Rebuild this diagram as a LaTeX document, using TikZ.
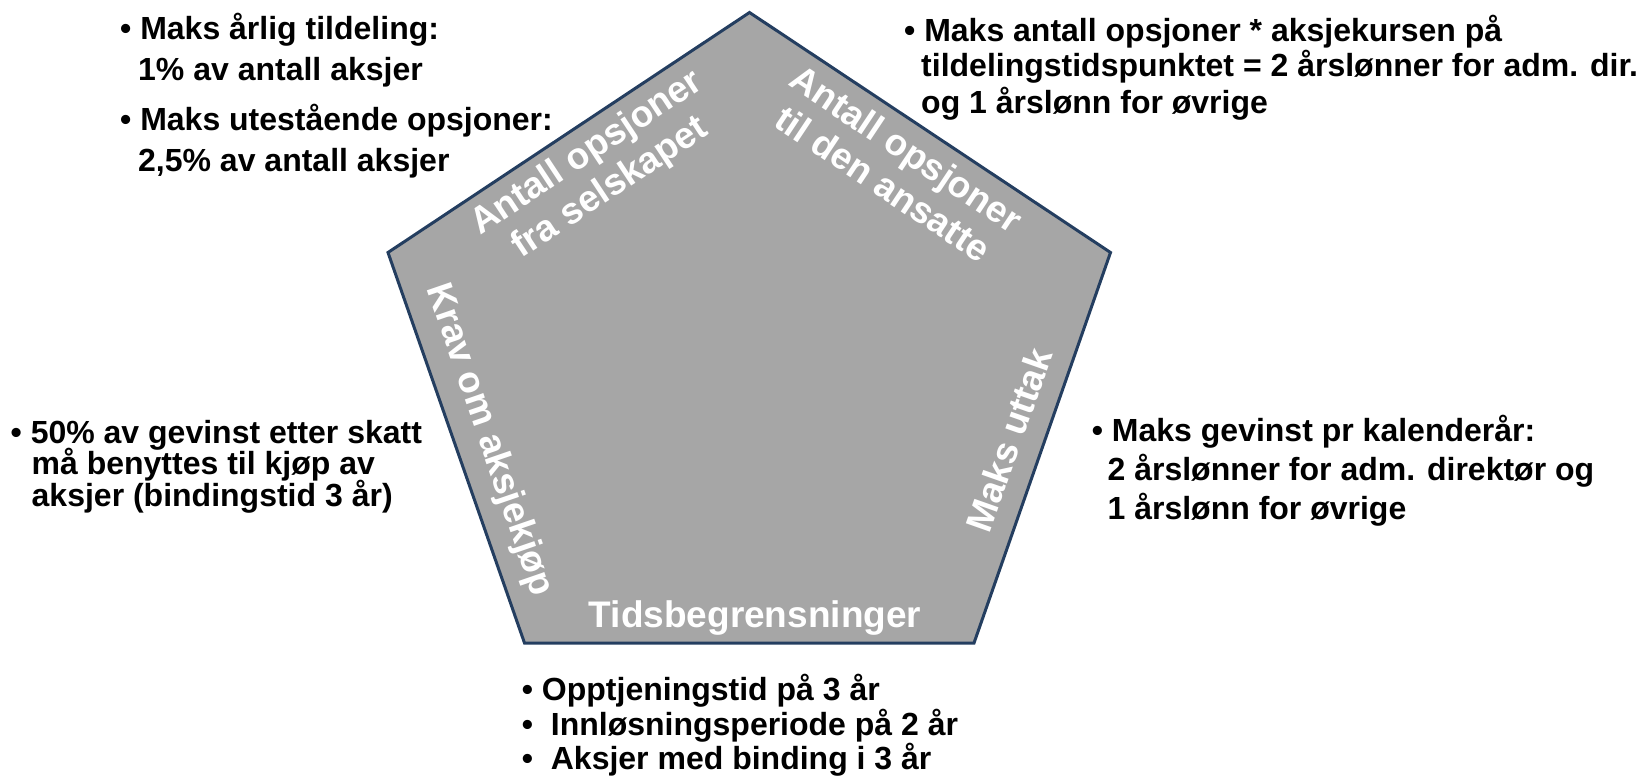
\documentclass[tikz,border=0pt]{standalone}
\usepackage{fontspec}
\setmainfont{Liberation Sans}
\definecolor{pentfill}{RGB}{166,166,166}
\definecolor{pentline}{RGB}{36,62,96}
\begin{document}
\begin{tikzpicture}[x=1pt,y=-1pt,
  txt/.style={anchor=base west,inner sep=0pt,font=\fontsize{32}{37}\selectfont\bfseries},
  wtxt/.style={inner sep=0pt,text=white,font=\fontsize{37}{42}\selectfont\bfseries,align=center}]
\useasboundingbox (0,0) rectangle (1646,780);
\coordinate (pT) at (749.5,12.5);
\coordinate (pR) at (1110.5,252.5);
\coordinate (pBR) at (974,643);
\coordinate (pBL) at (524.5,643);
\coordinate (pL) at (388,252.5);
\draw[fill=pentfill,draw=pentline,line width=3pt,line join=miter] (pT) -- (pR) -- (pBR) -- (pBL) -- (pL) -- cycle;
% white labels
\node[wtxt,rotate=33.5] (wtl) at (599,171) {Antall opsjoner\\fra selskapet};
\node[wtxt,rotate=-33.7] (wtr) at (895,166) {Antall opsjoner\\til den ansatte};
\node[wtxt,rotate=70.6] (wr) at (1009,440) {Maks uttak};
\node[wtxt,rotate=-71] (wl) at (489,440) {Krav om aksjekjøp};
\node[wtxt,anchor=base] (wb) at (755,627) {Tidsbegrensninger};
% top left
\node[txt] (tl1) at (120,39) {• Maks årlig tildeling:};
\node[txt] (tl2) at (138,80) {1\% av antall aksjer};
\node[txt] (tl3) at (120,130) {• Maks utestående opsjoner:};
\node[txt] (tl4) at (138,171.5) {2,5\% av antall aksjer};
% top right
\node[txt] (tr1) at (904,41) {• Maks antall opsjoner * aksjekursen på};
\node[txt] (tr2) at (921,76.5) {tildelingstidspunktet = 2 årslønner for adm. dir.};
\node[txt] (tr3) at (921,113) {og 1 årslønn for øvrige};
% left
\node[txt] (l1) at (10.5,443) {• 50\% av gevinst etter skatt};
\node[txt] (l2) at (31.5,474.5) {må benyttes til kjøp av};
\node[txt] (l3) at (31.5,506) {aksjer (bindingstid 3 år)};
% right
\node[txt] (r1) at (1091.7,441) {• Maks gevinst pr kalenderår:};
\node[txt] (r2) at (1107.4,480) {2 årslønner for adm. direktør og};
\node[txt] (r3) at (1107.4,519.6) {1 årslønn for øvrige};
% bottom
\node[txt] (b1) at (521.7,700) {• Opptjeningstid på 3 år};
\node[txt] (b2) at (521.7,735) {•\ \ Innløsningsperiode på 2 år};
\node[txt] (b3) at (521.7,769.5) {•\ \ Aksjer med binding i 3 år};
\end{tikzpicture}
\end{document}
